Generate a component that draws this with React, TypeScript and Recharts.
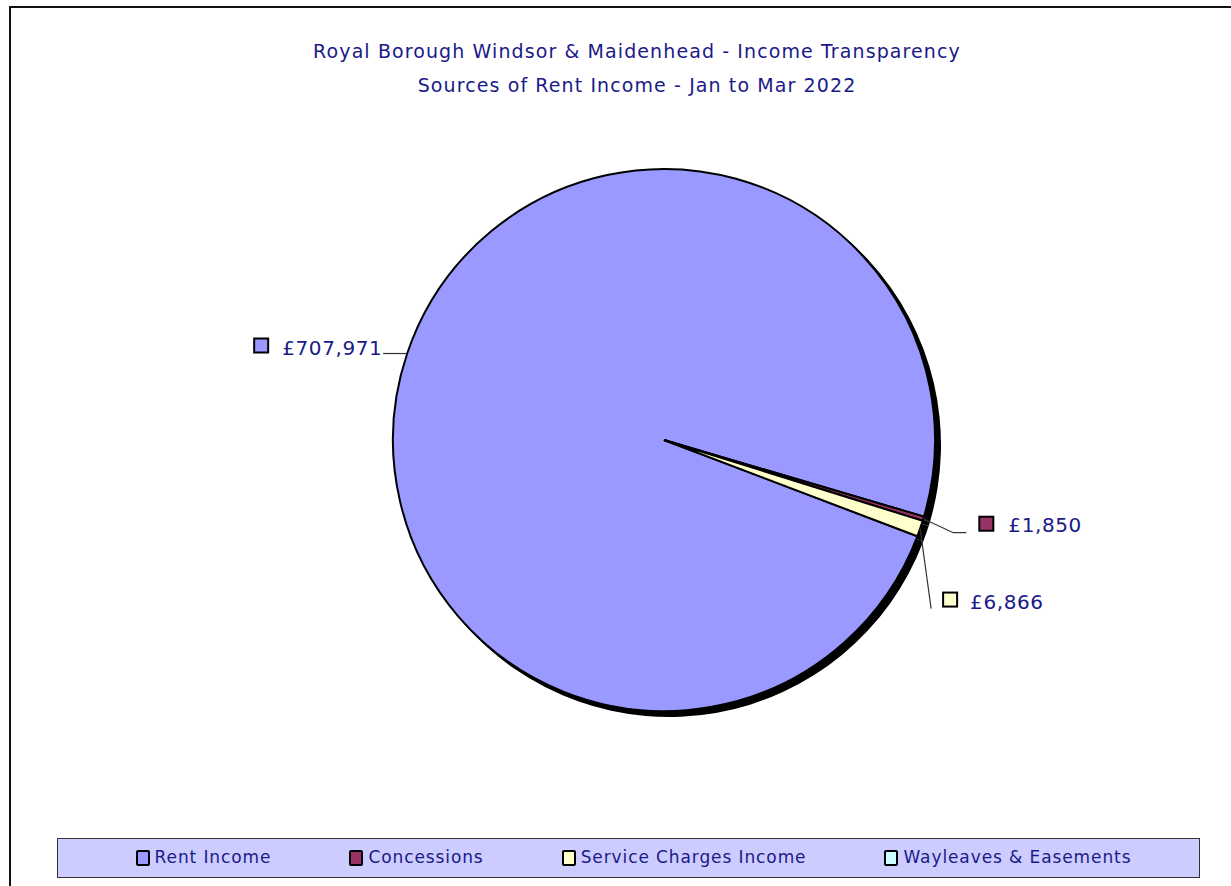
import React from 'react'
import { PieChart, Pie, Cell, Legend } from 'recharts'

const categories = ['Rent Income', 'Concessions', 'Service Charges Income', 'Wayleaves & Easements']
const amounts = [707971, 1850, 6866, 0]
const sliceColours = ['#9999FF', '#993366', '#FFFFCC', '#CCFFFF']
const titleLines = [
  'Royal Borough Windsor & Maidenhead - Income Transparency',
  'Sources of Rent Income - Jan to Mar 2022',
]

const data = categories.map((name, i) => ({ name, value: amounts[i] }))

const NAVY = '#1a1a88'
const FONT = '"DejaVu Sans", sans-serif'
const RAD = Math.PI / 180

// leader line points, marker and text offsets relative to the slice's rim point
const labelLayout = [
  { line: [[0, 0], [-24, 0]], marker: [-153, -15], text: [-125, 1] },
  { line: [[0, 0], [30, 14], [43, 14]], marker: [56, -2], text: [85, 13] },
  { line: [[0, 0], [11, 80]], marker: [23, 64], text: [50, 80] },
]

const money = (v: number) => '£' + v.toLocaleString('en-GB')

const renderLabel = (p: any) => {
  const { cx, cy, midAngle, outerRadius, index, value } = p
  if (!value || !labelLayout[index]) return null
  const a = -midAngle * RAD
  const rx = cx + outerRadius * Math.cos(a)
  const ry = cy + outerRadius * Math.sin(a)
  const l = labelLayout[index]
  const pts = l.line.map(([dx, dy]) => `${rx + dx},${ry + dy}`).join(' ')
  return (
    <g key={`lbl-${index}`}>
      <polyline points={pts} fill="none" stroke="#333" strokeWidth={1.2} />
      <rect
        x={rx + l.marker[0]}
        y={ry + l.marker[1]}
        width={14}
        height={14}
        fill={sliceColours[index]}
        stroke="#000"
        strokeWidth={2}
      />
      <text
        x={rx + l.text[0]}
        y={ry + l.text[1]}
        fill={NAVY}
        fontSize={20}
        fontFamily={FONT}
        letterSpacing={0.6}
      >
        {money(value)}
      </text>
    </g>
  )
}

const LegendBox = () => (
  <div
    style={{
      width: 1131,
      height: 35,
      background: '#CCCCFF',
      border: '1px solid #333',
      display: 'flex',
      alignItems: 'center',
      justifyContent: 'center',
      gap: 78,
      fontFamily: FONT,
      fontSize: 17,
      letterSpacing: 0.9,
      color: NAVY,
      boxSizing: 'content-box',
      paddingLeft: 10,
      paddingBottom: 3,
    }}
  >
    {categories.map((c, i) => (
      <div key={c} style={{ display: 'flex', alignItems: 'center' }}>
        <span
          style={{
            display: 'inline-block',
            width: 10,
            height: 12,
            background: sliceColours[i],
            border: '2px solid #000',
            borderRadius: 2,
            marginRight: 5,
            marginTop: 3,
          }}
        />
        <span>{c}</span>
      </div>
    ))}
  </div>
)

export default function App() {
  return (
    <div style={{ position: 'fixed', inset: 0, overflow: 'hidden', background: '#fff' }}>
      <div
        style={{
          position: 'absolute',
          left: 9,
          top: 6,
          width: 1300,
          height: 1000,
          borderTop: '2px solid #111',
          borderLeft: '2px solid #111',
        }}
      />
      <svg
        width={1231}
        height={120}
        style={{ position: 'absolute', left: 0, top: 0, pointerEvents: 'none' }}
      >
        {titleLines.map((t, i) => (
          <text
            key={t}
            x={637}
            y={58 + i * 34}
            textAnchor="middle"
            fill={NAVY}
            fontSize={19}
            fontFamily={FONT}
            letterSpacing={1.1}
          >
            {t}
          </text>
        ))}
      </svg>
      <div style={{ position: 'absolute', left: 0, top: 0 }}>
        <PieChart width={1231} height={886} margin={{ top: 0, right: 0, bottom: 0, left: 0 }}>
          <Pie
            data={data}
            dataKey="value"
            cx={669}
            cy={445}
            outerRadius={272}
            startAngle={-20.8}
            endAngle={-380.8}
            fill="#000"
            stroke="none"
            isAnimationActive={false}
            legendType="none"
          />
          <Pie
            data={data}
            dataKey="value"
            nameKey="name"
            cx={664}
            cy={440}
            outerRadius={271}
            startAngle={-20.8}
            endAngle={-380.8}
            stroke="#000"
            strokeWidth={2}
            label={renderLabel}
            labelLine={false}
            isAnimationActive={false}
          >
            {data.map((d, i) => (
              <Cell key={d.name} fill={sliceColours[i]} />
            ))}
          </Pie>
          <Legend
            content={() => <LegendBox />}
            wrapperStyle={{ position: 'absolute', left: 57, top: 838, width: 1143, bottom: 'auto' }}
          />
        </PieChart>
      </div>
    </div>
  )
}
